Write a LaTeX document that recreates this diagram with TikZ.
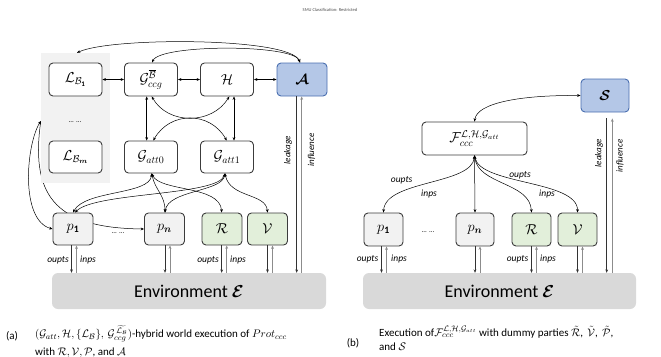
\documentclass[tikz,border=0pt]{standalone}
\usepackage{amsmath,amssymb}
\usepackage{bm}
\usepackage{fontspec}
\setmainfont{Carlito}
\usetikzlibrary{arrows.meta,backgrounds,calc}
\definecolor{regiongray}{HTML}{F2F2F2}
\definecolor{pgray}{HTML}{F2F2F2}
\definecolor{pgreen}{HTML}{E2EFDA}
\definecolor{pblue}{HTML}{B4C7E7}
\definecolor{bluline}{HTML}{4A6FB0}
\definecolor{boxline}{HTML}{3C3C3C}
\definecolor{envgray}{HTML}{D9D9D9}
\tikzset{
  box/.style={draw=boxline, line width=0.9pt, rounded corners=4pt, fill=white, inner sep=0pt,
    font=\fontsize{14}{16}\selectfont},
  wbox/.style={box, minimum width=53pt, minimum height=33pt},
  pbox/.style={box, fill=pgray, minimum width=40pt, minimum height=32pt},
  gbox/.style={box, fill=pgreen, minimum width=40pt, minimum height=32pt},
  bbox/.style={box, fill=pblue, draw=bluline, minimum width=50pt, minimum height=33pt},
  envbox/.style={fill=envgray, rounded corners=6pt, inner sep=0pt, minimum width=274pt,
    minimum height=36pt, font=\fontsize{18}{20}\selectfont},
  mytip/.tip={Stealth[length=3.4pt,width=2.8pt]},
  bi/.style={mytip-mytip, line width=0.5pt, draw=black},
  dnar/.style={-mytip, draw=black!80, line width=0.7pt},
  upar/.style={-mytip, draw=black!45, line width=0.9pt},
  lab/.style={font=\fontsize{9.5}{11}\selectfont\itshape, inner sep=1pt},
  vlab/.style={font=\fontsize{9}{10}\selectfont\itshape, rotate=90, inner sep=1pt},
  captxt/.style={font=\fontsize{11}{13}\selectfont, inner sep=0pt, anchor=west},
  dots/.style={font=\fontsize{7}{8}\selectfont, inner sep=0pt}
}
\newcommand\iopair[3]{%
  \draw[dnar] ([xshift=#3]#1.south) -- ([xshift=#3]#1.south |- #2.north);
  \draw[upar] ([xshift=#3+5pt]#1.south |- #2.north) -- ([xshift=#3+5pt]#1.south);}
\begin{document}
\begin{tikzpicture}[x=1pt,y=-1pt]
\path[use as bounding box] (0,0) rectangle (661,356);
\node[font=\fontsize{4.5}{5}\selectfont, text=black!70, inner sep=0pt] (smu) at (330,10) {SMU Classification: Restricted};

% ---------- left panel ----------
\node[fill=regiongray, minimum width=69pt, minimum height=130pt, inner sep=0pt] (grp) at (75.5,118) {};
\node[wbox] (lb1) at (75.5,79.5) {$\mathcal{L}_{\mathcal{B}_{\mathbf{1}}}$};
\node[wbox] (gccg) at (151,79.5) {$\mathcal{G}_{ccg}^{\overline{\mathcal{B}}}$};
\node[wbox] (hh) at (227,79.5) {$\mathcal{H}$};
\node[bbox] (aa) at (302,79.5) {$\bm{\mathcal{A}}$};
\node[dots] (d1) at (75,122) {... ...};
\node[wbox, minimum height=32pt] (lbm) at (75.5,157) {$\mathcal{L}_{\mathcal{B}_{\bm{m}}}$};
\node[wbox, minimum height=32pt] (ga0) at (151,157) {$\mathcal{G}_{att0}$};
\node[wbox, minimum height=32pt] (ga1) at (227,157) {$\mathcal{G}_{att1}$};
\node[pbox] (p1) at (73,229) {$p_{\mathbf{1}}$};
\node[dots] (d2) at (118,233) {... ...};
\node[pbox] (pn) at (164.5,229) {$p_{\bm{n}}$};
\node[gbox] (rr) at (222,229) {$\mathcal{R}$};
\node[gbox] (vv) at (267.5,229) {$\mathcal{V}$};
\node[envbox] (envL) at (189,291) {Environment $\bm{\mathcal{E}}$};

\begin{scope}[on background layer]
  \draw[bi] ([yshift=-3pt]grp.west) .. controls (26,145) and (20,220) .. (p1.west);
  \draw[bi] ([yshift=-3pt]grp.west) .. controls (30,200) and (60,228) .. (pn.west);
\end{scope}

\draw[bi] ([xshift=-2pt]aa.north) .. controls (290,37) and (110,37) .. ([xshift=1.5pt]grp.north);
\draw[bi] ([xshift=-2pt]aa.north) .. controls (294,44) and (160,44) .. ([xshift=1pt]gccg.north);
\draw[bi] (lb1) -- (gccg);
\draw[bi] (gccg) -- (hh);
\draw[bi] (hh) -- (aa);
\draw[bi] ([xshift=-4.3pt]gccg.south) -- ([xshift=-4.3pt]ga0.north);
\draw[bi] ([xshift=7pt]hh.south) -- ([xshift=7pt]ga1.north);
\draw[bi] ([xshift=0.7pt]gccg.south) .. controls (168,125) and (212,125) .. ([xshift=2.3pt]hh.south);
\draw[bi] ([xshift=2.3pt]ga0.north) .. controls (170,111) and (210,111) .. ([xshift=-0.3pt]ga1.north);

\draw[bi] ([xshift=0.7pt]ga0.south) .. controls (150,195) and (85,190) .. ([xshift=0pt]p1.north);
\draw[bi] ([xshift=2pt]p1.north) .. controls (95,192) and (218,196) .. ([xshift=-2pt]ga1.south);
\draw[bi] ([xshift=0.7pt]ga0.south) .. controls (155,190) and (165,195) .. ([xshift=0.5pt]pn.north);
\draw[bi] ([xshift=0.7pt]ga0.south) .. controls (160,192) and (220,185) .. ([xshift=-0.3pt]rr.north);
\draw[bi] ([xshift=-2pt]ga1.south) .. controls (222,192) and (168,190) .. ([xshift=0.5pt]pn.north);
\draw[bi] ([xshift=-2pt]ga1.south) .. controls (230,198) and (266,193) .. ([xshift=0pt]vv.north);

\iopair{p1}{envL}{-1.5pt}
\iopair{pn}{envL}{0.5pt}
\iopair{rr}{envL}{-0.3pt}
\iopair{vv}{envL}{0pt}
\draw[dnar] ([xshift=-5.3pt]aa.south) -- ([xshift=-5.3pt]aa.south |- envL.north);
\draw[upar] ([xshift=-0.3pt]aa.south |- envL.north) -- ([xshift=-0.3pt]aa.south);
\node[vlab] (lk1) at (288,150) {leakage};
\node[vlab] (in1) at (311.5,150) {influence};
\node[lab, anchor=east] (o1) at (70,260) {oupts};
\node[lab, anchor=west] (i1) at (79,260) {inps};
\node[lab, anchor=east] (o2) at (220,260) {oupts};
\node[lab, anchor=west] (i2) at (229,260) {inps};

% ---------- right panel ----------
\node[box, minimum width=105pt, minimum height=33pt] (ff) at (474.5,138.5) {$\mathcal{F}_{ccc}^{\mathcal{L},\mathcal{H},\mathcal{G}_{att}}$};
\node[bbox, minimum width=48pt] (ss) at (605,95.5) {$\bm{\mathcal{S}}$};
\node[pbox, minimum width=39pt, minimum height=33pt] (q1) at (383.5,229.5) {$p_{\mathbf{1}}$};
\node[dots] (d3) at (428,232) {... ...};
\node[pbox, minimum width=38pt, minimum height=33pt] (qn) at (475,229.5) {$p_{\bm{n}}$};
\node[gbox, minimum width=39pt, minimum height=33pt] (rr2) at (531.5,229.5) {$\mathcal{R}$};
\node[gbox, minimum width=39pt, minimum height=33pt] (vv2) at (577.5,229.5) {$\mathcal{V}$};
\node[envbox, minimum width=273pt] (envR) at (499.5,291) {Environment $\bm{\mathcal{E}}$};

\draw[bi] (ff.north) .. controls (477,103) and (520,95) .. (ss.west);
\draw[bi] (ff.south) .. controls (472,185) and (385,180) .. (q1.north);
\draw[bi] (ff.south) -- (qn.north);
\draw[bi] (ff.south) .. controls (478,185) and (530,182) .. (rr2.north);
\draw[bi] (ff.south) .. controls (480,185) and (578,180) .. (vv2.north);
\node[lab] (o3) at (401.7,180) {oupts};
\node[lab] (i3) at (429,194) {inps};
\node[lab] (o4) at (520,175) {oupts};
\node[lab] (i4) at (547,194) {inps};

\iopair{q1}{envR}{-2pt}
\iopair{qn}{envR}{0pt}
\iopair{rr2}{envR}{0pt}
\iopair{vv2}{envR}{0pt}
\coordinate (sb) at ([yshift=-6pt]ss.south);
\draw[dnar] ([xshift=1.7pt]sb) -- ([xshift=1.7pt]sb |- envR.north);
\draw[upar] ([xshift=7.3pt]sb |- envR.north) -- ([xshift=7.3pt]sb);
\node[vlab] (lk2) at (599,153) {leakage};
\node[vlab] (in2) at (620,156) {influence};
\node[lab, anchor=east] (o5) at (379.5,259) {oupts};
\node[lab, anchor=west] (i5) at (390,259) {inps};
\node[lab, anchor=east] (o6) at (529.5,259) {oupts};
\node[lab, anchor=west] (i6) at (539,259) {inps};

% ---------- captions ----------
\node[font=\fontsize{11}{13}\selectfont, inner sep=0pt] (ca) at (12,336) {(a)};
\node[captxt] (ca1) at (35,334) {$(\mathcal{G}_{att},\mathcal{H},\{\mathcal{L}_{\mathcal{B}}\},\,\mathcal{G}_{ccg}^{\,\widetilde{\mathcal{L}_{\mathcal{B}}}})$-hybrid world execution of $Prot_{ccc}$};
\node[captxt] (ca2) at (35,353) {with $\mathcal{R},\mathcal{V},\mathcal{P}$, and $\mathcal{A}$};
\node[font=\fontsize{11}{13}\selectfont, inner sep=0pt] (cb) at (353,343) {(b)};
\node[captxt] (cb1) at (379,332) {Execution of$\mathcal{F}_{ccc}^{\mathcal{L},\mathcal{H},\mathcal{G}_{att}}$ with dummy parties $\tilde{\mathcal{R}}$,\, $\tilde{\mathcal{V}}$,\, $\tilde{\mathcal{P}}$,};
\node[captxt] (cb2) at (379,347) {and $\mathcal{S}$};
\end{tikzpicture}
\end{document}
